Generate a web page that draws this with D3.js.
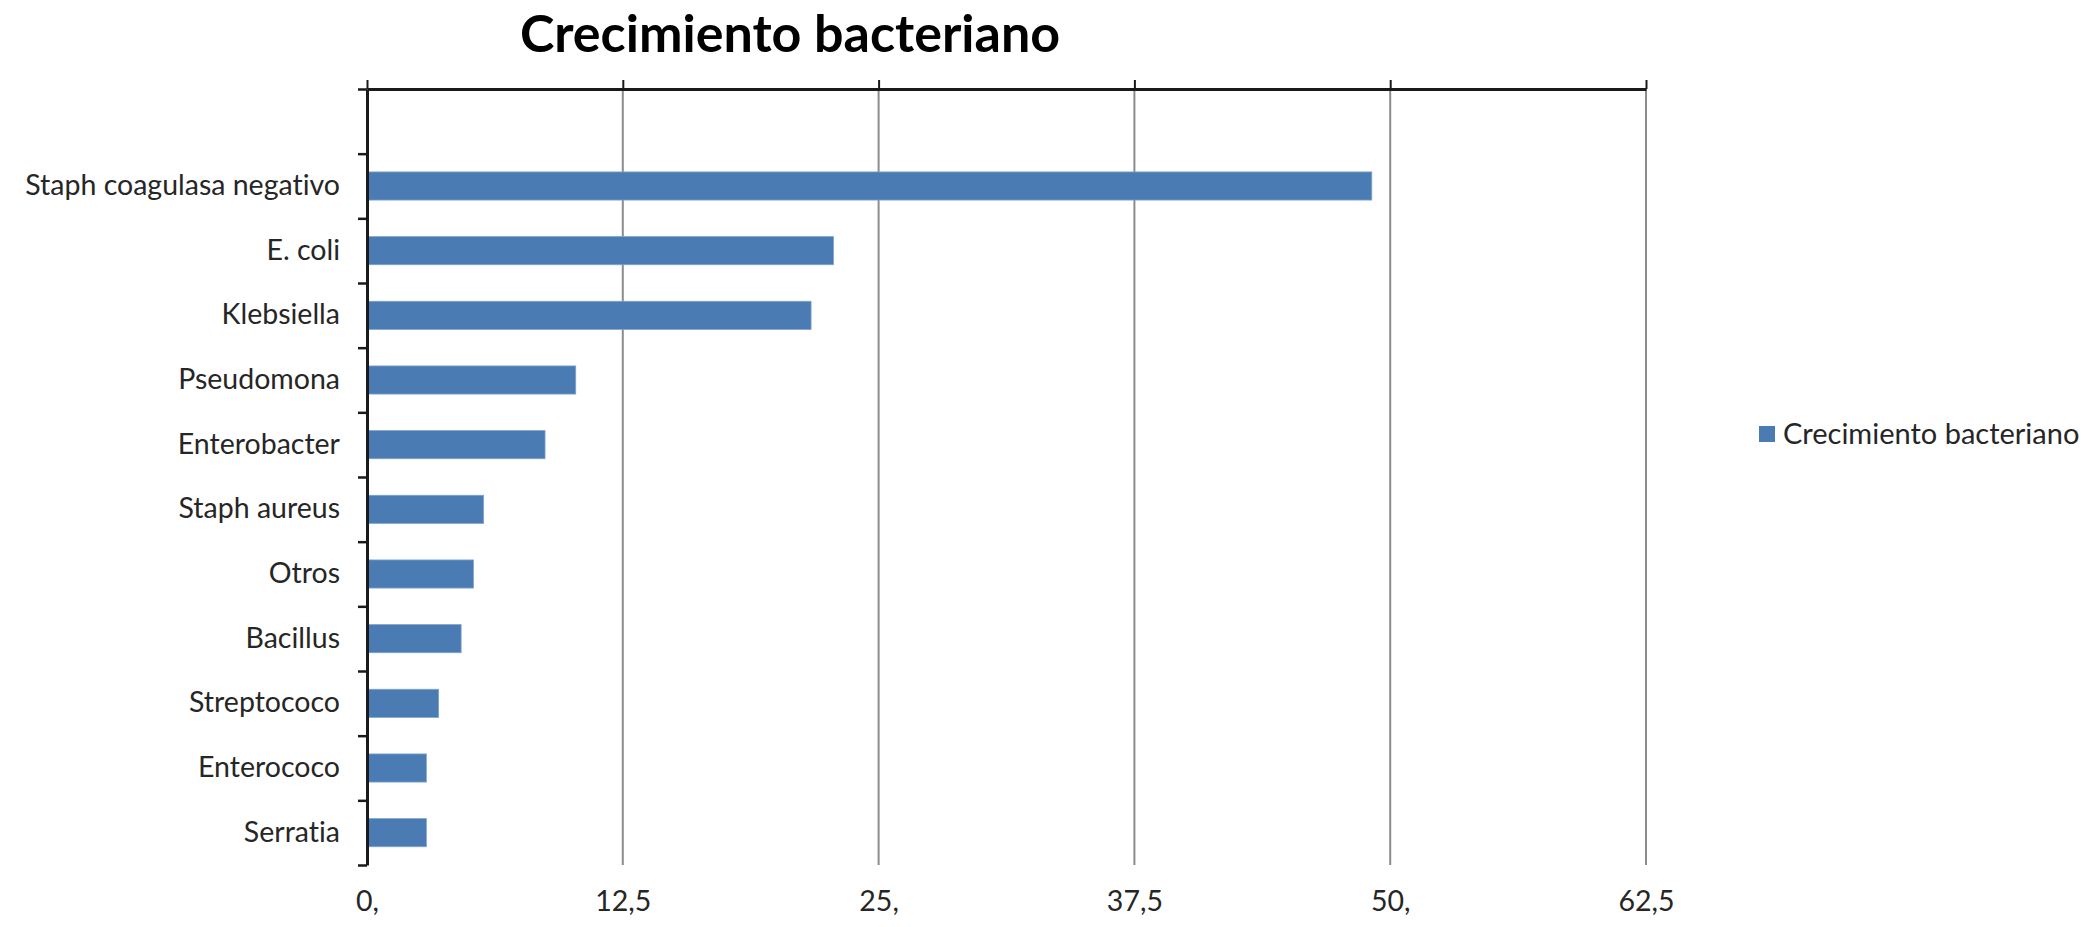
<!DOCTYPE html>
<html>
<head>
<meta charset="utf-8">
<script src="https://cdn.jsdelivr.net/npm/d3@7"></script>
<style>
  html, body { margin: 0; padding: 0; background: #fff; }
  svg { display: block; font-family: Lato, "Open Sans", sans-serif; font-variant-ligatures: none; }
  .cat-axis text, .val-axis text { fill: #262626; font-size: 28.5px; }
  .title { font-weight: bold; font-size: 52px; fill: #000; }
  .legend-label { font-size: 29px; fill: #262626; }
</style>
</head>
<body>
<div class="chart-wrapper"></div>
<script>
// data: first slot is the blank row Excel leaves at the top
const categories = ['', 'Staph coagulasa negativo', 'E. coli', 'Klebsiella', 'Pseudomona',
  'Enterobacter', 'Staph aureus', 'Otros', 'Bacillus', 'Streptococo', 'Enterococo', 'Serratia']
const values = [null, 49.1, 22.8, 21.7, 10.2, 8.7, 5.7, 5.2, 4.6, 3.5, 2.9, 2.9]
const tickValues = [0, 12.5, 25, 37.5, 50, 62.5]
const tickLabels = ['0,', '12,5', '25,', '37,5', '50,', '62,5']
const seriesName = 'Crecimiento bacteriano'

const width = 2093
const height = 927
const barColor = '#4a7bb3'

let svg = d3.select('.chart-wrapper').append('svg')
  .attr('width', width)
  .attr('height', height)

let plotTop = 89, plotBottom = 865, plotLeft = 367, plotRight = 1646

let x = d3.scaleLinear()
  .domain([0, 62.5])
  .range([plotLeft, plotRight])

let y = d3.scaleBand()
  .domain(categories)
  .range([plotTop, plotBottom])
  .paddingInner(0.565)
  .paddingOuter(0.2825)

// band boundaries for the tick marks on the left axis
let yEdges = d3.scaleLinear()
  .domain([0, categories.length])
  .range([plotTop, plotBottom])

// GRIDLINES
svg.append('g')
  .selectAll('line')
  .data(tickValues.slice(1))
  .enter()
  .append('line')
  .attr('x1', d => x(d))
  .attr('x2', d => x(d))
  .attr('y1', plotTop)
  .attr('y2', plotBottom)
  .attr('stroke', '#8c8c8c')
  .attr('stroke-width', 2)

// BARS
svg.append('g')
  .selectAll('rect')
  .data(categories.map((c, i) => ({cat: c, value: values[i]})).filter(d => d.value != null))
  .enter()
  .append('rect')
  .attr('x', x(0))
  .attr('y', d => y(d.cat))
  .attr('width', d => x(d.value) - x(0))
  .attr('height', y.bandwidth())
  .attr('fill', barColor)
  .attr('stroke', '#7ea3cf')
  .attr('stroke-width', 0.8)

// top axis line, ticks pointing up, no labels
svg.append('g')
  .attr('transform', 'translate(0,' + plotTop + ')')
  .call(d3.axisTop(x).tickValues(tickValues).tickFormat('').tickSize(9).tickSizeOuter(0))
  .call(g => g.select('.domain').attr('stroke', '#1a1a1a').attr('stroke-width', 3))
  .call(g => g.selectAll('.tick line').attr('stroke', '#1a1a1a').attr('stroke-width', 2))

// value labels at the bottom, no line
svg.append('g')
  .attr('class', 'val-axis')
  .attr('transform', 'translate(0,' + plotBottom + ')')
  .call(d3.axisBottom(x).tickValues(tickValues).tickFormat((d, i) => tickLabels[i]).tickSize(0).tickPadding(26))
  .call(g => g.select('.domain').remove())
  .call(g => g.selectAll('text').attr('font-family', 'Lato, sans-serif'))

// left axis line with ticks at band edges
svg.append('g')
  .attr('transform', 'translate(' + plotLeft + ',0)')
  .call(d3.axisLeft(yEdges).tickValues(d3.range(categories.length + 1)).tickFormat('').tickSize(9).tickSizeOuter(0))
  .call(g => g.select('.domain').attr('stroke', '#1a1a1a').attr('stroke-width', 3))
  .call(g => g.selectAll('.tick line').attr('stroke', '#1a1a1a').attr('stroke-width', 2.5))

// category labels
svg.append('g')
  .attr('class', 'cat-axis')
  .attr('transform', 'translate(' + plotLeft + ',0)')
  .call(d3.axisLeft(y).tickSize(0).tickPadding(27))
  .call(g => g.select('.domain').remove())
  .call(g => g.selectAll('text').attr('font-family', 'Lato, sans-serif'))

// TITLE
svg.append('text')
  .attr('class', 'title')
  .attr('x', 790)
  .attr('y', 52)
  .attr('text-anchor', 'middle')
  .text(seriesName)

// LEGEND
let legend = svg.append('g')
  .attr('transform', 'translate(1759,434)')

legend.append('rect')
  .attr('x', 0)
  .attr('y', -8)
  .attr('width', 16)
  .attr('height', 16)
  .attr('fill', barColor)

legend.append('text')
  .attr('class', 'legend-label')
  .attr('x', 24)
  .attr('y', 10)
  .text(seriesName)
</script>
</body>
</html>
